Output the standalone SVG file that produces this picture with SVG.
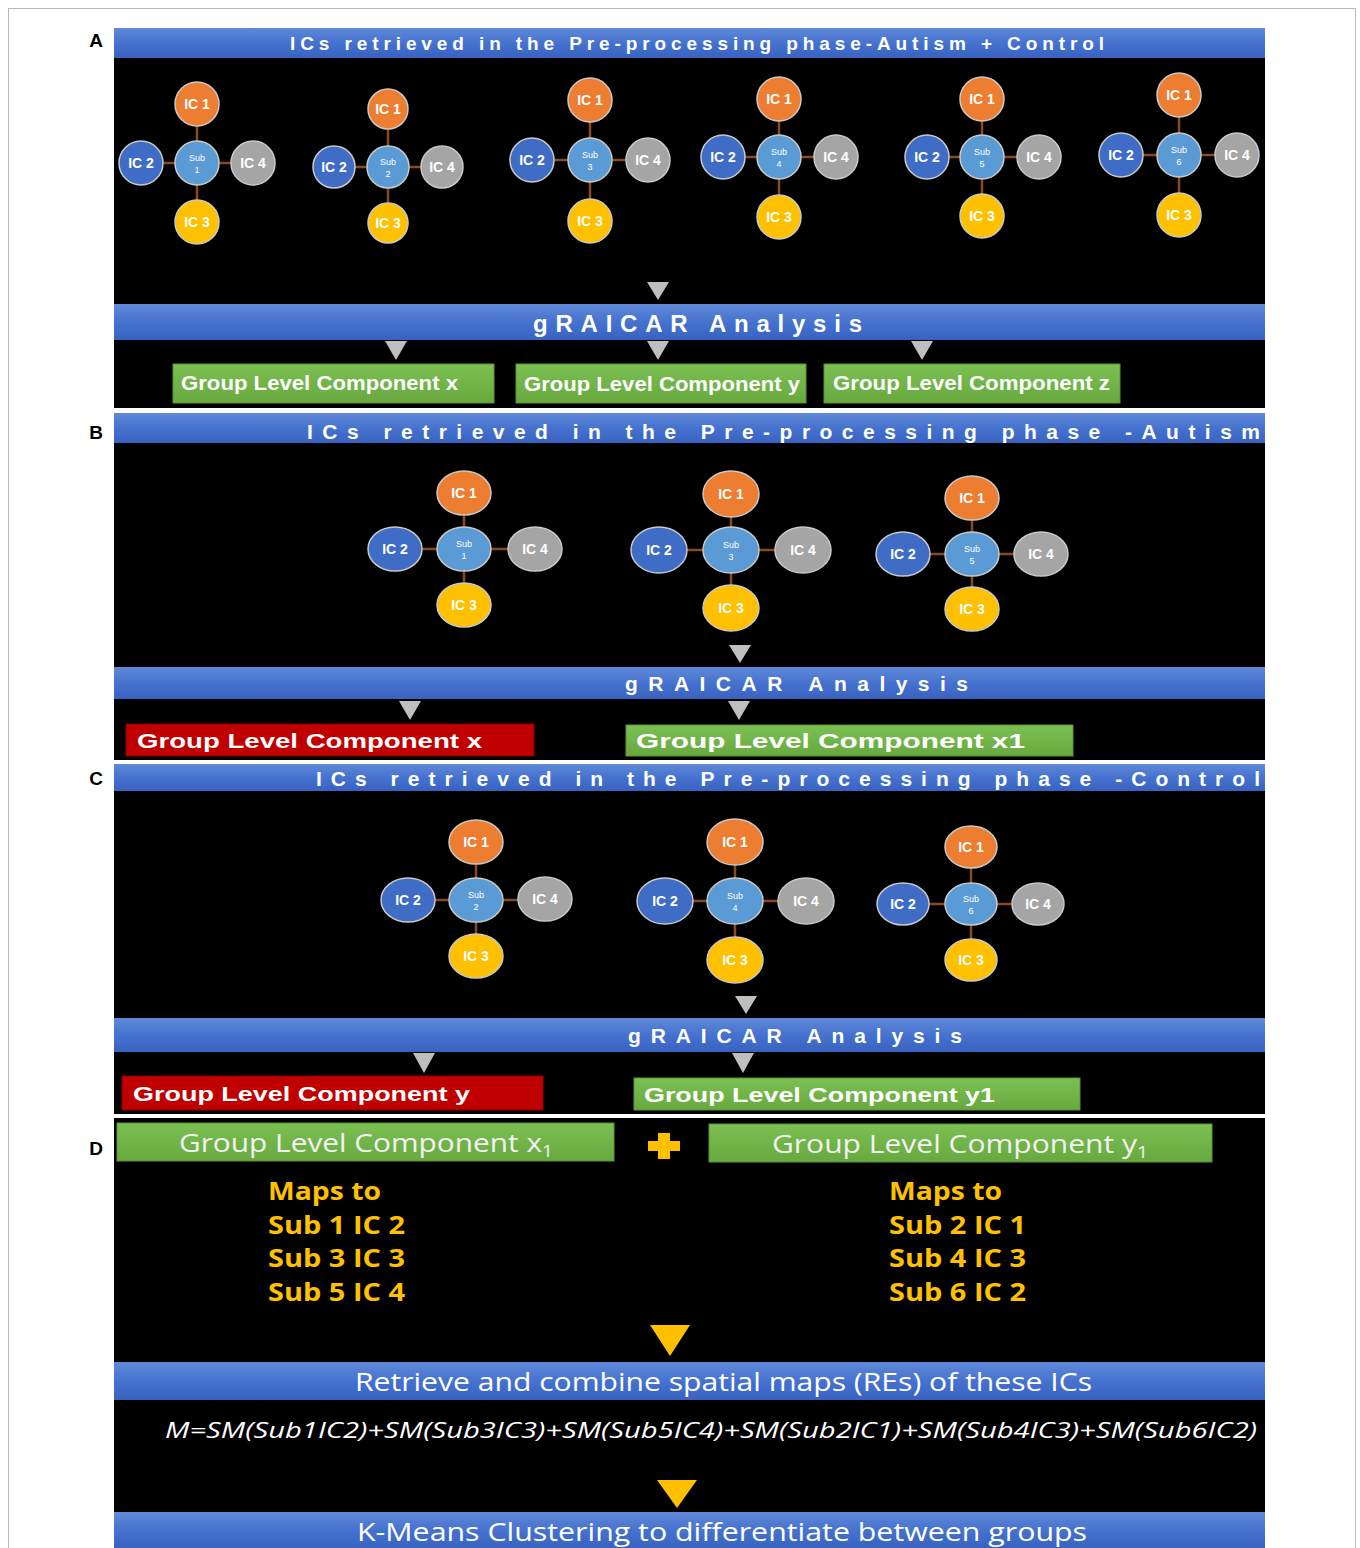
<svg xmlns="http://www.w3.org/2000/svg" width="1360" height="1548" viewBox="0 0 1360 1548">
<defs>
<linearGradient id="bar" x1="0" y1="0" x2="0" y2="1">
<stop offset="0" stop-color="#6089d8"/>
<stop offset="0.5" stop-color="#4672cf"/>
<stop offset="1" stop-color="#3862c0"/>
</linearGradient>
<linearGradient id="grn" x1="0" y1="0" x2="0" y2="1">
<stop offset="0" stop-color="#7cbf52"/>
<stop offset="1" stop-color="#67a93f"/>
</linearGradient>
</defs>
<style>
.panel{fill:#000}
.bar{fill:url(#bar)}
.hdr{font-family:"Liberation Sans",Arial,sans-serif;font-weight:bold;fill:#fff;font-size:19px}
.hdr2{font-family:"Liberation Sans",Arial,sans-serif;font-weight:bold;fill:#fff;font-size:21px}
.gr{font-family:"Liberation Sans",Arial,sans-serif;font-weight:bold;fill:#fff;font-size:24px}
.box{fill:url(#grn);stroke:#5a9634;stroke-width:1}
.red{fill:#c00000;stroke:#8f0000;stroke-width:1}
.bt{font-family:"Liberation Sans",Arial,sans-serif;font-weight:bold;fill:#fff;font-size:21px}
.dt{font-family:"Open Sans","Liberation Sans",sans-serif;fill:#f2f2f2;font-size:25px}
.yt{font-family:"Open Sans","Liberation Sans",sans-serif;font-weight:bold;fill:#ffc000;font-size:25px}
.bl{font-family:"Open Sans","Liberation Sans",sans-serif;fill:#fff;font-size:25px}
.fm{font-family:"Open Sans","Liberation Sans",sans-serif;font-style:italic;fill:#fff;font-size:21px}
.tri{fill:#bfbfbf}
.ytri{fill:#ffc000}
.ln{stroke:#8a4a1e;stroke-width:2.5}
.ic1{fill:#ed7d31;stroke:#c9c9c9;stroke-width:1.5}
.ic2{fill:#3f6cc4;stroke:#c9c9c9;stroke-width:1.5}
.ic3{fill:#ffc000;stroke:#c9c9c9;stroke-width:1.5}
.ic4{fill:#a5a5a5;stroke:#c9c9c9;stroke-width:1.5}
.sub{fill:#5b9bd5;stroke:#c9c9c9;stroke-width:1.5}
.nl{font-family:"Liberation Sans",Arial,sans-serif;font-weight:bold;fill:#fff;font-size:14px;text-anchor:middle}
.sl{font-family:"Liberation Sans",Arial,sans-serif;fill:#fff;font-size:9px;text-anchor:middle}
.pl{font-family:"Liberation Sans",Arial,sans-serif;font-weight:bold;fill:#000;font-size:19px;text-anchor:middle}
</style>
<rect x="0" y="0" width="1360" height="1548" fill="#fff"/>
<rect x="8.5" y="8.5" width="1347" height="1560" fill="none" stroke="#b8b8b8" stroke-width="1"/>

<!-- panels -->
<rect class="panel" x="114" y="28" width="1151" height="380"/>
<rect class="panel" x="114" y="413" width="1151" height="347"/>
<rect class="panel" x="114" y="764" width="1151" height="350"/>
<rect class="panel" x="114" y="1118" width="1151" height="430"/>

<text class="pl" x="96" y="47">A</text>
<text class="pl" x="96" y="439">B</text>
<text class="pl" x="96" y="785">C</text>
<text class="pl" x="96" y="1155">D</text>

<!-- bars -->
<g id="headerA"><rect class="bar" x="114" y="28" width="1151" height="30"/><text class="hdr" x="290" y="50" textLength="814" lengthAdjust="spacing">ICs retrieved in the Pre-processing phase-Autism + Control</text></g>
<g id="graicarA"><rect class="bar" x="114" y="304" width="1151" height="36"/><text class="gr" x="533" y="332" textLength="329" lengthAdjust="spacing">gRAICAR Analysis</text></g>
<g id="headerB"><rect class="bar" x="114" y="413" width="1151" height="30"/><text class="hdr2" x="307" y="439" textLength="953" lengthAdjust="spacing">ICs retrieved in the Pre-processing phase -Autism</text></g>
<g id="graicarB"><rect class="bar" x="114" y="667" width="1151" height="32"/><text class="hdr2" x="625" y="691" textLength="343" lengthAdjust="spacing">gRAICAR Analysis</text></g>
<g id="headerC"><rect class="bar" x="114" y="764" width="1151" height="27"/><text class="hdr2" x="316" y="786" textLength="944" lengthAdjust="spacing">ICs retrieved in the Pre-processing phase -Control</text></g>
<g id="graicarC"><rect class="bar" x="114" y="1018" width="1151" height="34"/><text class="hdr2" x="628" y="1043" textLength="334" lengthAdjust="spacing">gRAICAR Analysis</text></g>
<g id="retrieve"><rect class="bar" x="114" y="1362" width="1151" height="38"/><text class="bl" x="355" y="1391" textLength="737" lengthAdjust="spacingAndGlyphs">Retrieve and combine spatial maps (REs) of these ICs</text></g>
<g id="kmeans"><rect class="bar" x="114" y="1512" width="1151" height="36"/><text class="bl" x="357" y="1541" textLength="730" lengthAdjust="spacingAndGlyphs">K-Means Clustering to differentiate between groups</text></g>

<!-- component boxes -->
<g id="gA_x"><rect class="box" x="173" y="364" width="321" height="39"/><text class="bt" x="181" y="390" textLength="277" lengthAdjust="spacingAndGlyphs">Group Level Component x</text></g>
<g id="gA_y"><rect class="box" x="516" y="364" width="290" height="39"/><text class="bt" x="524" y="391" textLength="276" lengthAdjust="spacingAndGlyphs">Group Level Component y</text></g>
<g id="gA_z"><rect class="box" x="824" y="364" width="296" height="39"/><text class="bt" x="833" y="390" textLength="277" lengthAdjust="spacingAndGlyphs">Group Level Component z</text></g>
<g id="gB_x"><rect class="red" x="126" y="724" width="408" height="32"/><text class="bt" x="137" y="748" textLength="345" lengthAdjust="spacingAndGlyphs">Group Level Component x</text></g>
<g id="gB_x1"><rect class="box" x="626" y="725" width="447" height="31"/><text class="bt" x="636" y="748" textLength="389" lengthAdjust="spacingAndGlyphs">Group Level Component x1</text></g>
<g id="gC_y"><rect class="red" x="122" y="1076" width="421" height="34"/><text class="bt" x="133" y="1101" textLength="337" lengthAdjust="spacingAndGlyphs">Group Level Component y</text></g>
<g id="gC_y1"><rect class="box" x="634" y="1078" width="446" height="32"/><text class="bt" x="644" y="1102" textLength="351" lengthAdjust="spacingAndGlyphs">Group Level Component y1</text></g>
<g id="gD_x1"><rect class="box" x="117" y="1123" width="497" height="38"/><text class="dt" x="179" y="1152" textLength="374" lengthAdjust="spacingAndGlyphs">Group Level Component x<tspan font-size="16" dy="5">1</tspan></text></g>
<g id="plus"><path d="M658 1133 h12 v8 h10 v10 h-10 v8 h-12 v-8 h-10 v-10 h10 z" fill="#ffc000"/></g>
<g id="gD_y1"><rect class="box" x="709" y="1124" width="503" height="38"/><text class="dt" x="772" y="1153" textLength="376" lengthAdjust="spacingAndGlyphs">Group Level Component y<tspan font-size="16" dy="5">1</tspan></text></g>

<g id="mapsX">
<text class="yt" x="268" y="1200" textLength="113" lengthAdjust="spacingAndGlyphs">Maps to</text>
<text class="yt" x="268" y="1234" textLength="137" lengthAdjust="spacingAndGlyphs">Sub 1 IC 2</text>
<text class="yt" x="268" y="1267" textLength="137" lengthAdjust="spacingAndGlyphs">Sub 3 IC 3</text>
<text class="yt" x="268" y="1301" textLength="137" lengthAdjust="spacingAndGlyphs">Sub 5 IC 4</text>
</g>
<g id="mapsY">
<text class="yt" x="889" y="1200" textLength="113" lengthAdjust="spacingAndGlyphs">Maps to</text>
<text class="yt" x="889" y="1234" textLength="137" lengthAdjust="spacingAndGlyphs">Sub 2 IC 1</text>
<text class="yt" x="889" y="1267" textLength="137" lengthAdjust="spacingAndGlyphs">Sub 4 IC 3</text>
<text class="yt" x="889" y="1301" textLength="137" lengthAdjust="spacingAndGlyphs">Sub 6 IC 2</text>
</g>
<g id="formula"><text class="fm" x="165" y="1438" textLength="1092" lengthAdjust="spacingAndGlyphs">M=SM(Sub1IC2)+SM(Sub3IC3)+SM(Sub5IC4)+SM(Sub2IC1)+SM(Sub4IC3)+SM(Sub6IC2)</text></g>

<!-- connectors -->
<g id="connectors">
<path class="ln" d="M197 104V222M141 163H253 M388 109V223M334 167H442 M590 100V221M532 160H648 M779 99V217M723 157H836 M982 99V216M927 157H1039 M1179 95V215M1121 155H1237"/>
<path class="ln" d="M464 493V605M395 549H535 M731 494V608M659 550H803 M972 498V609M903 554H1041"/>
<path class="ln" d="M476 842V956M408 900H545 M735 842V960M665 901H806 M971 847V960M903 904H1038"/>
<polygon class="tri" points="647,282 669,282 658,300"/>
<polygon class="tri" points="385,341 407,341 396,360"/>
<polygon class="tri" points="647,341 669,341 658,360"/>
<polygon class="tri" points="911,341 933,341 922,360"/>
<polygon class="tri" points="729,645 751,645 740,663"/>
<polygon class="tri" points="399,701 421,701 410,720"/>
<polygon class="tri" points="728,701 750,701 739,720"/>
<polygon class="tri" points="735,996 757,996 746,1014"/>
<polygon class="tri" points="413,1053 435,1053 424,1073"/>
<polygon class="tri" points="732,1053 754,1053 743,1073"/>
<polygon class="ytri" points="650,1325 690,1325 670,1356"/>
<polygon class="ytri" points="657,1480 697,1480 677,1508"/>
</g>

<!-- Panel A nodes -->
<g id="A1">
<g id="A1_ic1"><circle class="ic1" cx="197" cy="104" r="22"/><text class="nl" x="197" y="109">IC 1</text></g>
<g id="A1_ic2"><circle class="ic2" cx="141" cy="163" r="22"/><text class="nl" x="141" y="168">IC 2</text></g>
<g id="A1_ic3"><circle class="ic3" cx="197" cy="222" r="22"/><text class="nl" x="197" y="227">IC 3</text></g>
<g id="A1_ic4"><circle class="ic4" cx="253" cy="163" r="22"/><text class="nl" x="253" y="168">IC 4</text></g>
<g id="A1_sub"><circle class="sub" cx="197" cy="163" r="22"/><text class="sl" x="197" y="161">Sub</text><text class="sl" x="197" y="173">1</text></g>
</g>
<g id="A2">
<g id="A2_ic1"><circle class="ic1" cx="388" cy="109" r="20"/><text class="nl" x="388" y="114">IC 1</text></g>
<g id="A2_ic2"><circle class="ic2" cx="334" cy="167" r="21"/><text class="nl" x="334" y="172">IC 2</text></g>
<g id="A2_ic3"><circle class="ic3" cx="388" cy="223" r="20"/><text class="nl" x="388" y="228">IC 3</text></g>
<g id="A2_ic4"><circle class="ic4" cx="442" cy="167" r="21"/><text class="nl" x="442" y="172">IC 4</text></g>
<g id="A2_sub"><circle class="sub" cx="388" cy="167" r="21"/><text class="sl" x="388" y="165">Sub</text><text class="sl" x="388" y="177">2</text></g>
</g>
<g id="A3">
<g id="A3_ic1"><circle class="ic1" cx="590" cy="100" r="22"/><text class="nl" x="590" y="105">IC 1</text></g>
<g id="A3_ic2"><circle class="ic2" cx="532" cy="160" r="22"/><text class="nl" x="532" y="165">IC 2</text></g>
<g id="A3_ic3"><circle class="ic3" cx="590" cy="221" r="22"/><text class="nl" x="590" y="226">IC 3</text></g>
<g id="A3_ic4"><circle class="ic4" cx="648" cy="160" r="22"/><text class="nl" x="648" y="165">IC 4</text></g>
<g id="A3_sub"><circle class="sub" cx="590" cy="160" r="22"/><text class="sl" x="590" y="158">Sub</text><text class="sl" x="590" y="170">3</text></g>
</g>
<g id="A4">
<g id="A4_ic1"><circle class="ic1" cx="779" cy="99" r="22"/><text class="nl" x="779" y="104">IC 1</text></g>
<g id="A4_ic2"><circle class="ic2" cx="723" cy="157" r="22"/><text class="nl" x="723" y="162">IC 2</text></g>
<g id="A4_ic3"><circle class="ic3" cx="779" cy="217" r="22"/><text class="nl" x="779" y="222">IC 3</text></g>
<g id="A4_ic4"><circle class="ic4" cx="836" cy="157" r="22"/><text class="nl" x="836" y="162">IC 4</text></g>
<g id="A4_sub"><circle class="sub" cx="779" cy="157" r="22"/><text class="sl" x="779" y="155">Sub</text><text class="sl" x="779" y="167">4</text></g>
</g>
<g id="A5">
<g id="A5_ic1"><circle class="ic1" cx="982" cy="99" r="22"/><text class="nl" x="982" y="104">IC 1</text></g>
<g id="A5_ic2"><circle class="ic2" cx="927" cy="157" r="22"/><text class="nl" x="927" y="162">IC 2</text></g>
<g id="A5_ic3"><circle class="ic3" cx="982" cy="216" r="22"/><text class="nl" x="982" y="221">IC 3</text></g>
<g id="A5_ic4"><circle class="ic4" cx="1039" cy="157" r="22"/><text class="nl" x="1039" y="162">IC 4</text></g>
<g id="A5_sub"><circle class="sub" cx="982" cy="157" r="22"/><text class="sl" x="982" y="155">Sub</text><text class="sl" x="982" y="167">5</text></g>
</g>
<g id="A6">
<g id="A6_ic1"><circle class="ic1" cx="1179" cy="95" r="22"/><text class="nl" x="1179" y="100">IC 1</text></g>
<g id="A6_ic2"><circle class="ic2" cx="1121" cy="155" r="22"/><text class="nl" x="1121" y="160">IC 2</text></g>
<g id="A6_ic3"><circle class="ic3" cx="1179" cy="215" r="22"/><text class="nl" x="1179" y="220">IC 3</text></g>
<g id="A6_ic4"><circle class="ic4" cx="1237" cy="155" r="22"/><text class="nl" x="1237" y="160">IC 4</text></g>
<g id="A6_sub"><circle class="sub" cx="1179" cy="155" r="22"/><text class="sl" x="1179" y="153">Sub</text><text class="sl" x="1179" y="165">6</text></g>
</g>

<!-- Panel B nodes -->
<g id="B1">
<g id="B1_ic1"><ellipse class="ic1" cx="464" cy="493" rx="27" ry="22"/><text class="nl" x="464" y="498">IC 1</text></g>
<g id="B1_ic2"><ellipse class="ic2" cx="395" cy="549" rx="27" ry="22"/><text class="nl" x="395" y="554">IC 2</text></g>
<g id="B1_ic3"><ellipse class="ic3" cx="464" cy="605" rx="27" ry="22"/><text class="nl" x="464" y="610">IC 3</text></g>
<g id="B1_ic4"><ellipse class="ic4" cx="535" cy="549" rx="27" ry="22"/><text class="nl" x="535" y="554">IC 4</text></g>
<g id="B1_sub"><ellipse class="sub" cx="464" cy="549" rx="27" ry="22"/><text class="sl" x="464" y="547">Sub</text><text class="sl" x="464" y="559">1</text></g>
</g>
<g id="B3">
<g id="B3_ic1"><ellipse class="ic1" cx="731" cy="494" rx="28" ry="23"/><text class="nl" x="731" y="499">IC 1</text></g>
<g id="B3_ic2"><ellipse class="ic2" cx="659" cy="550" rx="28" ry="23"/><text class="nl" x="659" y="555">IC 2</text></g>
<g id="B3_ic3"><ellipse class="ic3" cx="731" cy="608" rx="28" ry="23"/><text class="nl" x="731" y="613">IC 3</text></g>
<g id="B3_ic4"><ellipse class="ic4" cx="803" cy="550" rx="28" ry="23"/><text class="nl" x="803" y="555">IC 4</text></g>
<g id="B3_sub"><ellipse class="sub" cx="731" cy="550" rx="28" ry="23"/><text class="sl" x="731" y="548">Sub</text><text class="sl" x="731" y="560">3</text></g>
</g>
<g id="B5">
<g id="B5_ic1"><ellipse class="ic1" cx="972" cy="498" rx="27" ry="22"/><text class="nl" x="972" y="503">IC 1</text></g>
<g id="B5_ic2"><ellipse class="ic2" cx="903" cy="554" rx="27" ry="22"/><text class="nl" x="903" y="559">IC 2</text></g>
<g id="B5_ic3"><ellipse class="ic3" cx="972" cy="609" rx="27" ry="22"/><text class="nl" x="972" y="614">IC 3</text></g>
<g id="B5_ic4"><ellipse class="ic4" cx="1041" cy="554" rx="27" ry="22"/><text class="nl" x="1041" y="559">IC 4</text></g>
<g id="B5_sub"><ellipse class="sub" cx="972" cy="554" rx="27" ry="22"/><text class="sl" x="972" y="552">Sub</text><text class="sl" x="972" y="564">5</text></g>
</g>

<!-- Panel C nodes -->
<g id="C2">
<g id="C2_ic1"><ellipse class="ic1" cx="476" cy="842" rx="27" ry="22"/><text class="nl" x="476" y="847">IC 1</text></g>
<g id="C2_ic2"><ellipse class="ic2" cx="408" cy="900" rx="27" ry="22"/><text class="nl" x="408" y="905">IC 2</text></g>
<g id="C2_ic3"><ellipse class="ic3" cx="476" cy="956" rx="27" ry="22"/><text class="nl" x="476" y="961">IC 3</text></g>
<g id="C2_ic4"><ellipse class="ic4" cx="545" cy="899" rx="27" ry="22"/><text class="nl" x="545" y="904">IC 4</text></g>
<g id="C2_sub"><ellipse class="sub" cx="476" cy="900" rx="27" ry="22"/><text class="sl" x="476" y="898">Sub</text><text class="sl" x="476" y="910">2</text></g>
</g>
<g id="C4">
<g id="C4_ic1"><ellipse class="ic1" cx="735" cy="842" rx="28" ry="23"/><text class="nl" x="735" y="847">IC 1</text></g>
<g id="C4_ic2"><ellipse class="ic2" cx="665" cy="901" rx="28" ry="23"/><text class="nl" x="665" y="906">IC 2</text></g>
<g id="C4_ic3"><ellipse class="ic3" cx="735" cy="960" rx="28" ry="23"/><text class="nl" x="735" y="965">IC 3</text></g>
<g id="C4_ic4"><ellipse class="ic4" cx="806" cy="901" rx="28" ry="23"/><text class="nl" x="806" y="906">IC 4</text></g>
<g id="C4_sub"><ellipse class="sub" cx="735" cy="901" rx="28" ry="23"/><text class="sl" x="735" y="899">Sub</text><text class="sl" x="735" y="911">4</text></g>
</g>
<g id="C6">
<g id="C6_ic1"><ellipse class="ic1" cx="971" cy="847" rx="26" ry="21"/><text class="nl" x="971" y="852">IC 1</text></g>
<g id="C6_ic2"><ellipse class="ic2" cx="903" cy="904" rx="26" ry="21"/><text class="nl" x="903" y="909">IC 2</text></g>
<g id="C6_ic3"><ellipse class="ic3" cx="971" cy="960" rx="26" ry="21"/><text class="nl" x="971" y="965">IC 3</text></g>
<g id="C6_ic4"><ellipse class="ic4" cx="1038" cy="904" rx="26" ry="21"/><text class="nl" x="1038" y="909">IC 4</text></g>
<g id="C6_sub"><ellipse class="sub" cx="971" cy="904" rx="26" ry="21"/><text class="sl" x="971" y="902">Sub</text><text class="sl" x="971" y="914">6</text></g>
</g>
</svg>
